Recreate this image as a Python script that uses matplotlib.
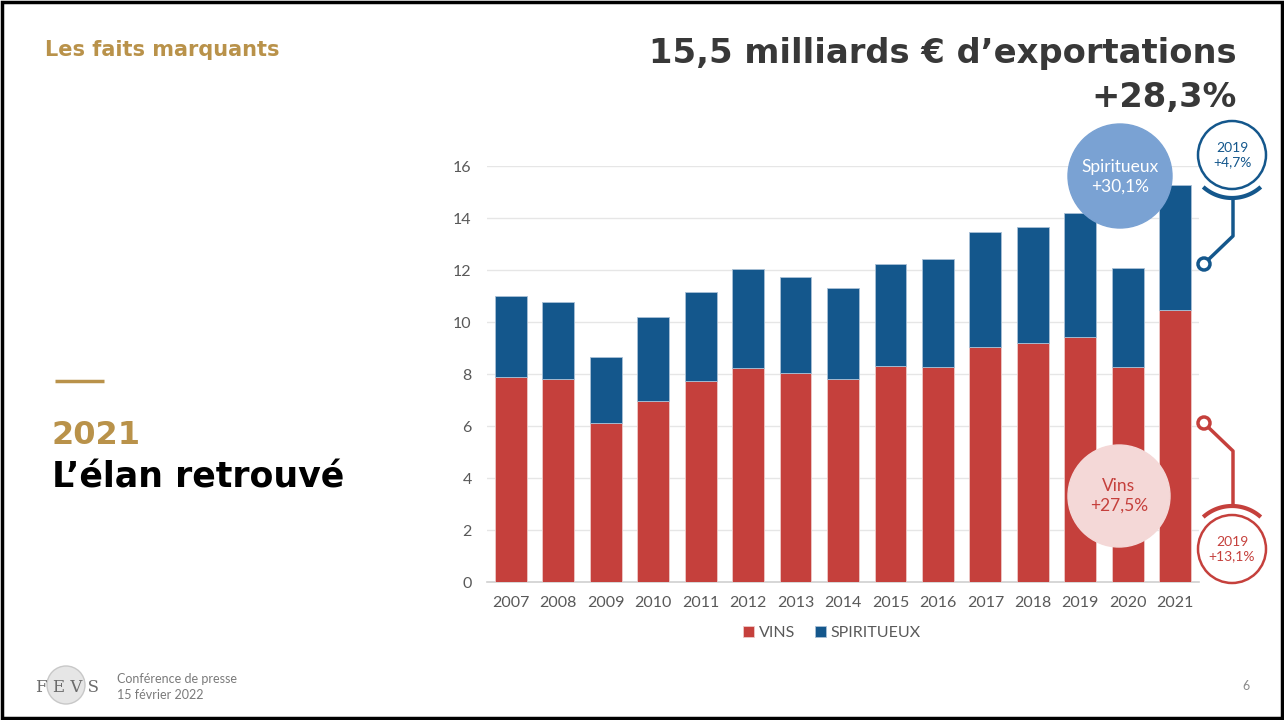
import matplotlib
matplotlib.use("Agg")
import matplotlib.pyplot as plt
import matplotlib.patches as mpatches
import numpy as np

# Exportations (milliards EUR)
years = [str(y) for y in range(2007, 2022)]
vins = [7.90, 7.80, 6.13, 6.96, 7.73, 8.23, 8.03, 7.82, 8.30, 8.27, 9.05, 9.20, 9.44, 8.28, 10.46]
spiritueux = [3.11, 2.96, 2.52, 3.22, 3.41, 3.81, 3.69, 3.47, 3.92, 4.14, 4.40, 4.44, 4.74, 3.78, 4.82]
yticks = [0, 2, 4, 6, 8, 10, 12, 14, 16]

RED = "#c5403c"
BLUE = "#14578c"
GOLD = "#b9924a"
GREY = "#595959"
TITLE_FONT = "DejaVu Sans"
CHART_FONT = "Lato"

fig = plt.figure(figsize=(12.84, 7.2), dpi=100)
W, H = 1284, 720

# --- chart ---
ax = fig.add_axes([487 / W, 1 - 582 / H, 712 / W, 416 / H])
x = np.arange(len(years))
ax.bar(x, vins, width=0.67, color=RED, edgecolor="#eec9c8", linewidth=0.6, zorder=3, label="VINS")
ax.bar(x, spiritueux, bottom=vins, width=0.67, color=BLUE, edgecolor="#a9c0d6",
       linewidth=0.6, zorder=3, label="SPIRITUEUX")
ax.set_xlim(-0.5, len(years) - 0.5)
ax.set_ylim(0, 16)
ax.set_yticks(yticks)
ax.set_xticks(x, years)
ax.grid(axis="y", color="#e6e6e6", lw=1, zorder=0)
for s in ["top", "right", "left"]:
    ax.spines[s].set_visible(False)
ax.spines["bottom"].set_color("#d0d0d0")
ax.spines["bottom"].set_linewidth(1.2)
ax.tick_params(length=0, labelsize=11.5, colors=GREY)
ax.tick_params(axis="y", pad=11)
ax.tick_params(axis="x", pad=10)
for lab in ax.get_xticklabels() + ax.get_yticklabels():
    lab.set_fontfamily(CHART_FONT)

fig.legend(loc="center", bbox_to_anchor=(832 / W, 1 - 633 / H), ncol=2, frameon=False,
           prop={"family": CHART_FONT, "size": 11.5}, labelcolor=GREY,
           handlelength=0.7, handleheight=0.7, handletextpad=0.3, columnspacing=1.2)

# --- overlay in pixel coordinates ---
ov = fig.add_axes([0, 0, 1, 1], zorder=10)
ov.set_xlim(0, W)
ov.set_ylim(H, 0)
ov.axis("off")
ov.patch.set_alpha(0)

# headings
ov.text(45, 50, "Les faits marquants", color=GOLD, fontsize=15, fontweight="bold",
        family=TITLE_FONT, va="center", ha="left")
ov.text(1237, 54, "15,5 milliards € d’exportations", color="#383838", fontsize=24.3,
        fontweight="bold", family=TITLE_FONT, va="center", ha="right")
ov.text(1237, 98, "+28,3%", color="#383838", fontsize=24.3, fontweight="bold",
        family=TITLE_FONT, va="center", ha="right")

ov.plot([55, 104], [381, 381], color=GOLD, lw=2.5, solid_capstyle="butt")
ov.text(52, 435, "2021", color=GOLD, fontsize=23, fontweight="bold", family=TITLE_FONT,
        va="center", ha="left")
ov.text(52, 478, "L’élan retrouvé", color="black", fontsize=25, fontweight="bold",
        family=TITLE_FONT, va="center", ha="left")

# big bubbles
ov.add_patch(mpatches.Circle((1120, 176), 52, color="#7aa2d3", zorder=2))
ov.text(1120, 177, "Spiritueux\n+30,1%", color="white", fontsize=12.5, family=CHART_FONT,
        ha="center", va="center", linespacing=1.3, zorder=3)
ov.add_patch(mpatches.Circle((1119, 496), 51, color="#f4d8d7", zorder=2))
ov.text(1119, 496, "Vins\n+27,5%", color=RED, fontsize=12.5, family=CHART_FONT,
        ha="center", va="center", linespacing=1.3, zorder=3)


def pin(cx, cy, col, label, bend, ring):
    # small labelled circle with arc, stem and ring
    s = 1 if ring > cy else -1
    ov.add_patch(mpatches.Circle((cx, cy), 34, fc="white", ec=col, lw=1.8, zorder=2))
    ov.text(cx, cy, label, color=col, fontsize=10, family=CHART_FONT, ha="center",
            va="center", linespacing=1.2, zorder=3)
    t = np.linspace(np.radians(-42), np.radians(42), 60)
    ov.plot(cx + 43 * np.sin(t), cy + s * 43 * np.cos(t), color=col, lw=3,
            solid_capstyle="butt", zorder=2)
    ov.plot([cx + 1, cx + 1, 1208], [cy + s * 43, bend, ring - s * 4],
            color=col, lw=2.5, zorder=2)
    ov.add_patch(mpatches.Circle((1204, ring), 6, fc="white", ec=col, lw=2.5, zorder=3))


pin(1232, 155, BLUE, "2019\n+4,7%", 236, 264)
pin(1232, 549, RED, "2019\n+13,1%", 451, 423)

# footer
ov.add_patch(mpatches.Circle((66, 685), 19, fc="#e6e6e6", ec="#c8c8c8", lw=1, zorder=1))
ov.text(67, 687, "F E V S", color="#6b6b6b", fontsize=12, family="DejaVu Serif",
        ha="center", va="center", zorder=2)
ov.text(117, 679, "Conférence de presse", color="#7a7a7a", fontsize=9, family=CHART_FONT,
        ha="left", va="center")
ov.text(117, 695, "15 février 2022", color="#7a7a7a", fontsize=9, family=CHART_FONT,
        ha="left", va="center")
ov.text(1246, 686, "6", color="#8a8a8a", fontsize=9, family=CHART_FONT, ha="center",
        va="center")

# slide frame
ov.add_patch(mpatches.Rectangle((1.5, 2), 1280, 716, fill=False, ec="black", lw=2.5))

fig.savefig("out.png", dpi=100)
